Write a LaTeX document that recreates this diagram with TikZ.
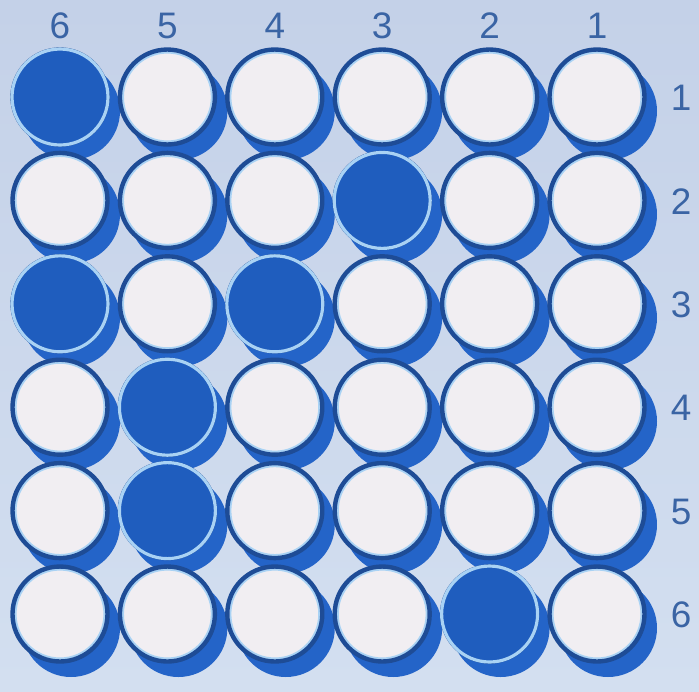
\documentclass[tikz,border=0pt]{standalone}
\usepackage{fontspec}
\setmainfont{Liberation Sans}
\definecolor{bgtop}{HTML}{C4D1E8}
\definecolor{bgbottom}{HTML}{D3DFF0}
\definecolor{rimblue}{HTML}{1E4C96}
\definecolor{holewhite}{HTML}{F1EEF2}
\definecolor{ringblue}{HTML}{A9D2F4}
\definecolor{pegblue}{HTML}{1F5DBE}
\definecolor{shadowblue}{HTML}{2464C8}
\definecolor{labelblue}{HTML}{3A64A4}

\begin{document}
\begin{tikzpicture}[x=0.02cm,y=-0.02cm,
  shade/.style={circle,fill=shadowblue,minimum size=1.96cm,inner sep=0pt},
  hole/.style={circle,draw=rimblue,line width=2.5pt,fill=holewhite,
               minimum size=1.9cm,inner sep=0pt,
               path picture={\draw[ringblue,line width=1.2pt]
                 (path picture bounding box.center) circle (0.89cm);}},
  peg/.style={circle,draw=ringblue,line width=1.8pt,fill=pegblue,
              minimum size=1.92cm,inner sep=0pt},
  lbl/.style={font=\fontsize{21}{22}\selectfont,text=labelblue}
]
\shade[top color=bgtop,bottom color=bgbottom] (0,0) rectangle (699,691);
\useasboundingbox (0,0) rectangle (699,691);
% shadows under every hole
\foreach \r in {1,...,6}
  \foreach \c in {1,...,6}
    \node[shade] (s\r\c) at ({60+107.4*(6-\c)+11},{97+103.4*(\r-1)+14}) {};
% board holes
\foreach \r in {1,...,6}
  \foreach \c in {1,...,6}
    \node[hole] (h\r\c) at ({60+107.4*(6-\c)},{97+103.4*(\r-1)}) {};
% filled pegs
\foreach \r/\c in {1/6,2/3,3/6,3/4,4/5,5/5,6/2}
  \node[peg] (p\r\c) at (h\r\c) {};
% column and row numbers
\foreach \c in {1,...,6}
  \node[lbl] (col\c) at ({60+107.4*(6-\c)},26) {\c};
\foreach \r in {1,...,6}
  \node[lbl] (row\r) at (681,{98+103.4*(\r-1)}) {\r};
\end{tikzpicture}
\end{document}
